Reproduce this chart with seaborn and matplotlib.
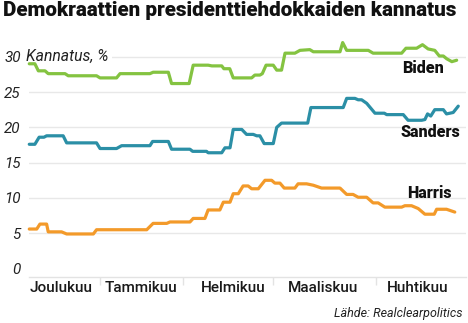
import matplotlib
matplotlib.use("Agg")
import matplotlib.pyplot as plt
import matplotlib.transforms as mtransforms
import seaborn as sns
import pandas as pd

# Polling support (%) per candidate; t = days from the start of the series
biden_t = [0, 2.1, 3.4, 5.9, 7.1, 13.4, 14.6, 25.2, 26.5, 32.7, 34.0, 45.2, 46.4, 52.1, 53.3,
           59.9, 61.4, 67.0, 68.4, 72.1, 72.9, 75.1, 76.4, 83.3, 84.5, 86.4, 87.3, 88.7, 91.4,
           92.7, 94.5, 95.8, 99.5, 101.4, 105.1, 106.4, 116.4, 117.4, 118.9, 127.0, 128.8,
           139.5, 141.1, 145.1, 147.3, 149.4, 151.9, 153.6, 155.1, 156.4, 158.3, 160.1]
biden_v = [29.0, 29.0, 28.0, 28.0, 27.6, 27.6, 27.3, 27.3, 27.0, 27.0, 27.6, 27.6, 27.8, 27.8,
           26.2, 26.2, 28.8, 28.8, 28.7, 28.7, 28.3, 28.3, 27.0, 27.0, 27.4, 27.4, 27.6, 28.8,
           28.8, 28.1, 28.1, 30.5, 30.5, 30.9, 31.0, 30.7, 30.7, 32.0, 30.9, 30.9, 30.5, 30.5,
           31.2, 31.2, 31.7, 31.1, 30.9, 30.1, 30.1, 29.7, 29.3, 29.5]

sanders_t = [0, 2.1, 3.7, 5.5, 6.5, 12.7, 14.0, 25.2, 26.5, 32.7, 34.6, 45.2, 46.2, 52.1, 53.3,
             60.2, 61.2, 66.4, 67.0, 72.1, 73.3, 75.2, 76.4, 79.6, 81.4, 83.9, 85.2, 86.4, 88.0,
             91.4, 92.7, 94.5, 104.3, 105.5, 117.6, 118.9, 122.0, 123.2, 124.5, 126.4, 129.5,
             133.0, 133.9, 140.1, 141.9, 147.0, 148.2, 149.2, 150.4, 151.9, 155.1, 156.3,
             158.8, 160.7]
sanders_v = [17.6, 17.6, 18.6, 18.6, 18.8, 18.8, 17.8, 17.8, 17.0, 17.0, 17.4, 17.4, 18.0, 18.0,
             16.9, 16.9, 16.6, 16.6, 16.4, 16.4, 17.1, 17.1, 19.7, 19.7, 19.0, 19.0, 18.8, 18.8,
             17.7, 17.7, 20.0, 20.6, 20.6, 22.8, 22.8, 24.1, 24.1, 23.9, 23.9, 23.4, 22.0, 22.0,
             21.8, 21.8, 21.0, 21.0, 21.1, 21.9, 21.6, 22.5, 22.5, 21.9, 22.1, 23.0]

harris_t = [0, 2.8, 4.0, 6.5, 7.1, 12.1, 14.0, 24.0, 25.2, 44.0, 46.4, 51.5, 52.7, 60.2, 61.4,
            65.8, 67.0, 71.4, 72.7, 75.2, 76.4, 78.3, 80.1, 82.0, 83.3, 85.8, 88.3, 90.8, 92.0,
            93.9, 95.5, 99.5, 100.7, 103.9, 106.4, 109.5, 116.4, 118.9, 121.3, 123.2, 126.4,
            128.8, 130.7, 133.2, 139.5, 140.7, 143.2, 145.7, 148.2, 151.7, 152.6, 156.3, 159.4]
harris_v = [5.6, 5.6, 6.3, 6.3, 5.2, 5.2, 4.9, 4.9, 5.5, 5.5, 6.4, 6.4, 6.6, 6.6, 7.1, 7.1,
            8.3, 8.3, 9.4, 9.4, 10.6, 10.6, 11.7, 11.7, 11.3, 11.3, 12.5, 12.5, 12.1, 12.1,
            11.4, 11.4, 12.0, 12.0, 11.8, 11.4, 11.4, 10.5, 10.5, 10.1, 10.1, 9.3, 9.3, 8.7,
            8.7, 8.9, 8.9, 8.5, 7.7, 7.7, 8.4, 8.4, 8.0]

candidates = ["Biden", "Sanders", "Harris"]
colors = {"Biden": "#84c341", "Sanders": "#2b8fa6", "Harris": "#f39a2a"}

month_names = ["Joulukuu", "Tammikuu", "Helmikuu", "Maaliskuu", "Huhtikuu"]
month_starts = [26.5, 57.6, 91.3, 130.0]
month_centers = [11.9, 41.8, 76.3, 110.0, 145.6]

y_ticks = [0, 5, 10, 15, 20, 25, 30]

title = "Demokraattien presidenttiehdokkaiden kannatus"
y_title = "Kannatus, %"
source = "Lähde: Realclearpolitics"

frames = []
for name, t, v in [("Biden", biden_t, biden_v),
                   ("Sanders", sanders_t, sanders_v),
                   ("Harris", harris_t, harris_v)]:
    frames.append(pd.DataFrame({"t": t, "kannatus": v, "ehdokas": name}))
df = pd.concat(frames, ignore_index=True)

sns.set_theme(style="white")
plt.rcParams["font.family"] = ["Roboto", "DejaVu Sans"]
fam = ["Roboto", "DejaVu Sans"]

fig = plt.figure(figsize=(4.68, 3.23), dpi=100)
ax = fig.add_axes([29 / 468, 1 - 276.7 / 323, 437 / 468, (276.7 - 39.05) / 323])

sns.lineplot(data=df, x="t", y="kannatus", hue="ehdokas", hue_order=candidates,
             palette=colors, estimator=None, sort=False, linewidth=2.3,
             legend=False, ax=ax, zorder=3)
for line in ax.get_lines():
    line.set_solid_joinstyle("round")
    line.set_solid_capstyle("round")
    line.set_clip_on(False)

ax.set_xlim(-0.1, 163.6)
ax.set_ylim(-1.15, 32.5)

# horizontal grid at 5..30, light base line at the bottom
for yv in y_ticks[1:]:
    ax.axhline(yv, color="#e8e8e8", linewidth=1.0, zorder=0.5)
for side in ["top", "right", "left"]:
    ax.spines[side].set_visible(False)
ax.spines["bottom"].set_color("#e3e3e3")
ax.spines["bottom"].set_linewidth(1.0)

# y ticks
ax.set_yticks(y_ticks)
ax.set_yticklabels([str(v) for v in y_ticks], fontstyle="italic", fontsize=11, color="#222222")
ax.tick_params(axis="y", length=0, pad=6)

# month separators as major ticks, month names as minor tick labels
ax.set_xticks(month_starts)
ax.set_xticklabels([""] * len(month_starts))
ax.set_xticks(month_centers, minor=True)
ax.set_xticklabels(month_names, minor=True, fontsize=11, fontweight="medium", color="#1a1a1a")
ax.tick_params(axis="x", which="major", length=6, width=1.0, color="#e3e3e3", direction="out",
               bottom=True)
ax.tick_params(axis="x", which="minor", length=0, pad=3, bottom=True)
ax.set_xlabel("")
ax.set_ylabel("")

# axis title next to the top tick value
trans = mtransforms.blended_transform_factory(ax.transAxes, ax.transData)
ax.text(-0.006, 30, y_title, transform=trans, ha="left", va="center", fontstyle="italic",
        fontsize=11.3, color="#222222", zorder=1.5,
        bbox=dict(facecolor="white", edgecolor="none", pad=2.0))

# series labels
label_pos = {"Biden": (139.5, 28.36), "Sanders": (139.1, 19.33), "Harris": (141.7, 10.77)}
for name in candidates:
    x, y = label_pos[name]
    ax.text(x, y, name, ha="left", va="center", fontsize=11.5, fontweight="heavy",
            family=fam, color="#111111", zorder=4)

fig.text(3 / 468, 1 - 10.5 / 323, title, ha="left", va="center", fontsize=14.9,
         fontweight="heavy", family=fam, color="#111111")
fig.text(463 / 468, 1 - 313 / 323, source, ha="right", va="center", fontsize=9,
         fontstyle="italic", family=fam, color="#222222")

fig.savefig("out.png", dpi=100, facecolor="white")
